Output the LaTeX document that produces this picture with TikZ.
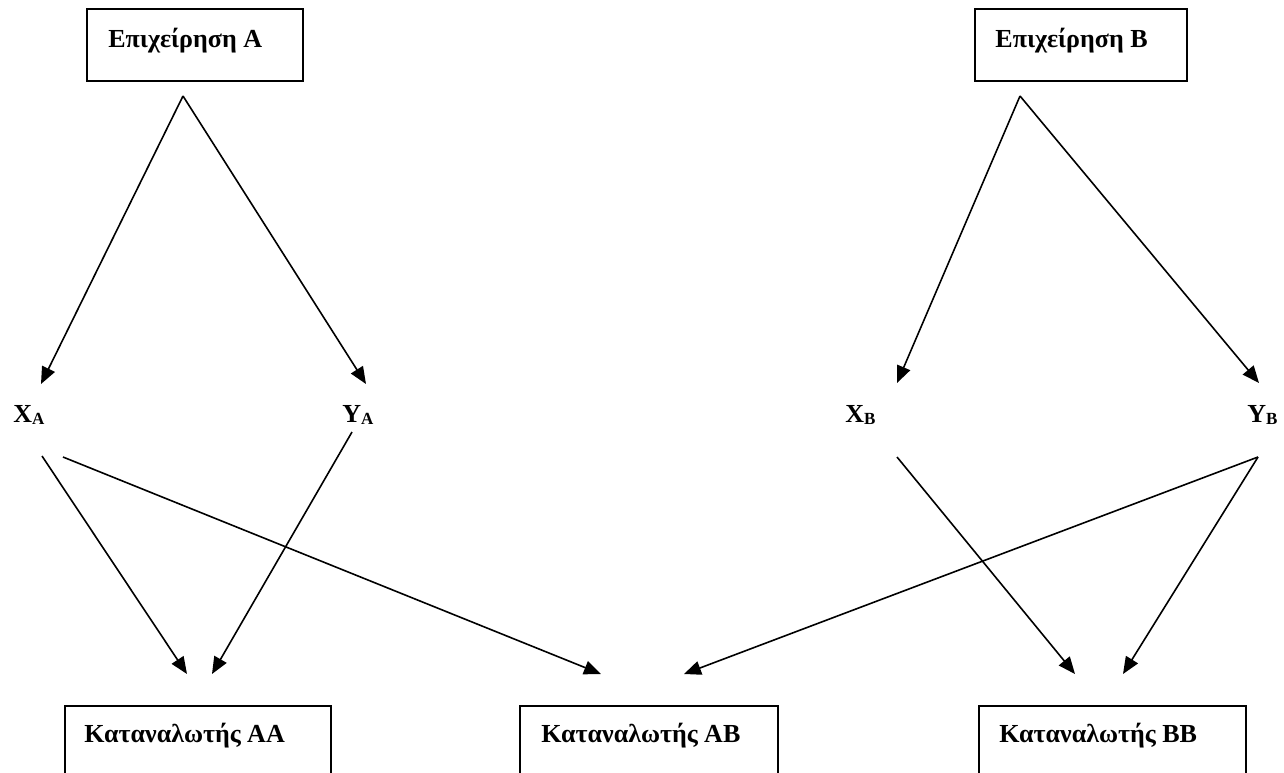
\documentclass[tikz,border=0pt]{standalone}
\usepackage{fontspec}
\setmainfont{Liberation Serif}
\usetikzlibrary{arrows.meta}
\newcommand\subtxt[1]{\raisebox{-1.3pt}{\fontsize{8.5pt}{10pt}\selectfont #1}}
\tikzset{
  boxnode/.style={draw, line width=1pt, inner sep=0pt},
  txt/.style={anchor=base west, inner sep=0pt, font=\fontsize{13pt}{15pt}\selectfont\bfseries},
  conn/.style={line width=0.8pt, -{Triangle[length=8.5pt,width=7pt]}}
}
\begin{document}
\begin{tikzpicture}[x=0.5pt,y=-0.5pt]
\useasboundingbox (0,0) rectangle (1284,772);
\clip (0,0) rectangle (1284,772);
% top boxes
\node[boxnode, minimum width=108pt, minimum height=36pt] (boxA) at (195,45) {};
\node[txt] (tA) at (108,47) {Επιχείρηση Α};
\node[boxnode, minimum width=106pt, minimum height=36pt] (boxB) at (1081,45) {};
\node[txt] (tB) at (995,47) {Επιχείρηση Β};
% bottom boxes (cut by the page edge)
\node[boxnode, minimum width=133pt, minimum height=60pt] (boxAA) at (198,766) {};
\node[txt] (tAA) at (84,742) {Καταναλωτής ΑΑ};
\node[boxnode, minimum width=129pt, minimum height=60pt] (boxAB) at (649,766) {};
\node[txt] (tAB) at (541,742) {Καταναλωτής ΑΒ};
\node[boxnode, minimum width=133.5pt, minimum height=60pt] (boxBB) at (1112.5,766) {};
\node[txt] (tBB) at (999,742) {Καταναλωτής ΒΒ};
% labels
\node[txt] (XA) at (13,422) {X\subtxt{A}};
\node[txt] (YA) at (342,422) {Y\subtxt{A}};
\node[txt] (XB) at (845,422) {X\subtxt{B}};
\node[txt] (YB) at (1247,422) {Y\subtxt{B}};
% connector end points
\coordinate (aOut) at (183,96);
\coordinate (bOut) at (1020,96);
\coordinate (xaIn) at (41,384);
\coordinate (yaIn) at (366,384);
\coordinate (xbIn) at (897,383);
\coordinate (ybIn) at (1259,383);
\coordinate (xaOut1) at (42,456);
\coordinate (xaOut2) at (63,457);
\coordinate (yaOut) at (352,432);
\coordinate (xbOut) at (897,457);
\coordinate (ybOut) at (1258,457);
\coordinate (aaIn1) at (187,674);
\coordinate (aaIn2) at (212,674);
\coordinate (abIn1) at (601,674);
\coordinate (abIn2) at (684,674);
\coordinate (bbIn1) at (1075,674);
\coordinate (bbIn2) at (1123,674);
% connectors
\draw[conn] (aOut) -- (xaIn);
\draw[conn] (aOut) -- (yaIn);
\draw[conn] (bOut) -- (xbIn);
\draw[conn] (bOut) -- (ybIn);
\draw[conn] (xaOut1) -- (aaIn1);
\draw[conn] (xaOut2) -- (abIn1);
\draw[conn] (yaOut) -- (aaIn2);
\draw[conn] (xbOut) -- (bbIn1);
\draw[conn] (ybOut) -- (abIn2);
\draw[conn] (ybOut) -- (bbIn2);
\end{tikzpicture}
\end{document}
